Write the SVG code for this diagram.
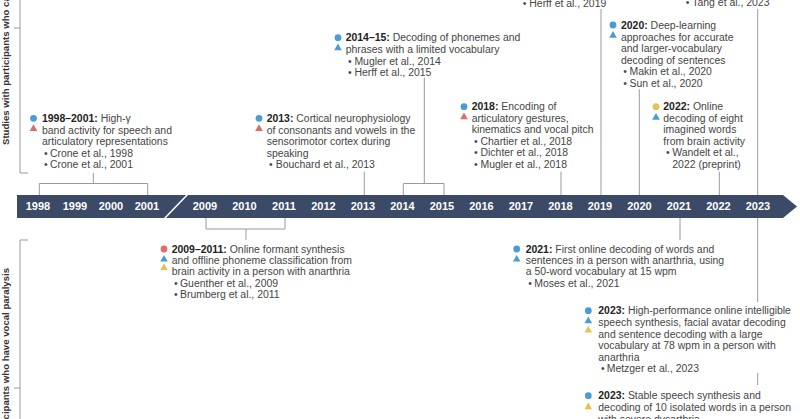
<svg xmlns="http://www.w3.org/2000/svg" width="800" height="419" viewBox="0 0 800 419">
<defs>
<style>
.t{font-family:"Liberation Sans",Arial,sans-serif;font-size:10.45px;fill:#454545}
.b{font-weight:bold;fill:#222}
.blt{fill:#3b4a67}
.yr{font-family:"Liberation Sans",Arial,sans-serif;font-size:11px;font-weight:bold;fill:#fff;text-anchor:middle}
.ln{stroke:#9a9a9a;stroke-width:1;fill:none}
.side{font-family:"Liberation Sans",Arial,sans-serif;font-size:9.6px;font-weight:bold;fill:#333}
.cb{fill:#4b9cd6}.cr{fill:#e06a6a}.cy{fill:#e8c24f}
</style>
<circle id="dot" r="3.4"/>
<polygon id="tri" points="-3.8,3.2 0,-3.4 3.8,3.2"/>
</defs>
<rect width="800" height="419" fill="#fff"/>

<g id="side-labels">
<path class="ln" d="M20,0 V173 H28 M14,28 H20"/>
<text class="side" transform="translate(9,145) rotate(-90)">Studies with participants who can speak</text>
<path class="ln" d="M28,240 H20 V419 M14,388 H20"/>
<text class="side" transform="translate(9,268) rotate(-90)" text-anchor="end">Studies with participants who have vocal paralysis</text>
</g>

<g id="timeline">
<polygon points="17,195 783,195 797,206.5 783,218 17,218" fill="#3b4a67"/>
<line x1="164" y1="219" x2="188" y2="194" stroke="#fff" stroke-width="1.5"/>
<text class="yr" x="38" y="210.4">1998</text>
<text class="yr" x="75" y="210.4">1999</text>
<text class="yr" x="111" y="210.4">2000</text>
<text class="yr" x="147" y="210.4">2001</text>
<text class="yr" x="205" y="210.4">2009</text>
<text class="yr" x="244.5" y="210.4">2010</text>
<text class="yr" x="284" y="210.4">2011</text>
<text class="yr" x="323.5" y="210.4">2012</text>
<text class="yr" x="363" y="210.4">2013</text>
<text class="yr" x="402.5" y="210.4">2014</text>
<text class="yr" x="442" y="210.4">2015</text>
<text class="yr" x="481.5" y="210.4">2016</text>
<text class="yr" x="521" y="210.4">2017</text>
<text class="yr" x="560.5" y="210.4">2018</text>
<text class="yr" x="600" y="210.4">2019</text>
<text class="yr" x="639.5" y="210.4">2020</text>
<text class="yr" x="679" y="210.4">2021</text>
<text class="yr" x="718.5" y="210.4">2022</text>
<text class="yr" x="758" y="210.4">2023</text>
</g>

<g id="connectors">
<path class="ln" d="M39.3,195 V183.5 H147.7 V195 M93.3,183.5 V173"/>
<path class="ln" d="M364.3,195 V171.7"/>
<path class="ln" d="M403.3,195 V183.5 H444 V195 M424.3,183.5 V77.7"/>
<path class="ln" d="M561,195 V171.7"/>
<path class="ln" d="M601,195 V9"/>
<path class="ln" d="M639.3,195 V89.3"/>
<path class="ln" d="M719.3,195 V171.7"/>
<path class="ln" d="M757.7,195 V9"/>
<path class="ln" d="M206,218 V229 H285 V218 M246,229 V240"/>
<path class="ln" d="M680,218 V240"/>
<path class="ln" d="M757.7,218 V302"/>
<path class="ln" d="M757.7,373 V385"/>
</g>

<g id="n2019">
<text class="t" x="522.7" y="6.8"><tspan class="blt">•</tspan><tspan x="529.3">Herff et al., 2019</tspan></text>
</g>

<g id="n2023top">
<text class="t" x="685.7" y="5.8"><tspan class="blt">•</tspan><tspan x="692.3">Tang et al., 2023</tspan></text>
</g>

<g id="n1998">
<use href="#dot" class="cb" x="33.5" y="118.3"/>
<use href="#tri" class="cr" x="33.5" y="127.7"/>
<text class="t" x="42" y="121.8"><tspan class="b">1998–2001:</tspan> High-γ</text>
<text class="t" x="42" y="133.5">band activity for speech and</text>
<text class="t" x="42" y="145.2">articulatory representations</text>
<text class="t" x="44" y="156.8"><tspan class="blt">•</tspan><tspan x="50">Crone et al., 1998</tspan></text>
<text class="t" x="44" y="168.2"><tspan class="blt">•</tspan><tspan x="50">Crone et al., 2001</tspan></text>
</g>

<g id="n2013">
<use href="#dot" class="cb" x="259" y="118.3"/>
<use href="#tri" class="cr" x="259" y="127.7"/>
<text class="t" x="266.7" y="121.8"><tspan class="b">2013:</tspan> Cortical neurophysiology</text>
<text class="t" x="266.7" y="133.5">of consonants and vowels in the</text>
<text class="t" x="266.7" y="145.2">sensorimotor cortex during</text>
<text class="t" x="266.7" y="156.8">speaking</text>
<text class="t" x="269" y="168.2"><tspan class="blt">•</tspan><tspan x="275.7">Bouchard et al., 2013</tspan></text>
</g>

<g id="n2014">
<use href="#dot" class="cb" x="338" y="37.7"/>
<use href="#tri" class="cb" x="338" y="47"/>
<text class="t" x="345.7" y="41.2"><tspan class="b">2014–15:</tspan> Decoding of phonemes and</text>
<text class="t" x="345.7" y="52.8">phrases with a limited vocabulary</text>
<text class="t" x="348" y="64.5"><tspan class="blt">•</tspan><tspan x="354.4">Mugler et al., 2014</tspan></text>
<text class="t" x="348" y="75.8"><tspan class="blt">•</tspan><tspan x="354.4">Herff et al., 2015</tspan></text>
</g>

<g id="n2018">
<use href="#dot" class="cb" x="464" y="106.7"/>
<use href="#tri" class="cr" x="464" y="116"/>
<text class="t" x="471.7" y="110.2"><tspan class="b">2018:</tspan> Encoding of</text>
<text class="t" x="471.7" y="121.8">articulatory gestures,</text>
<text class="t" x="471.7" y="133">kinematics and vocal pitch</text>
<text class="t" x="474" y="144.5"><tspan class="blt">•</tspan><tspan x="480.5">Chartier et al., 2018</tspan></text>
<text class="t" x="474" y="156.2"><tspan class="blt">•</tspan><tspan x="480.5">Dichter et al., 2018</tspan></text>
<text class="t" x="474" y="167.8"><tspan class="blt">•</tspan><tspan x="480.5">Mugler et al., 2018</tspan></text>
</g>

<g id="n2020">
<use href="#dot" class="cb" x="613" y="25"/>
<use href="#tri" class="cb" x="613" y="34.5"/>
<text class="t" x="621" y="28.5"><tspan class="b">2020:</tspan> Deep-learning</text>
<text class="t" x="621" y="40.5">approaches for accurate</text>
<text class="t" x="621" y="52.2">and larger-vocabulary</text>
<text class="t" x="621" y="63.8">decoding of sentences</text>
<text class="t" x="623.3" y="75.2"><tspan class="blt">•</tspan><tspan x="629.5">Makin et al., 2020</tspan></text>
<text class="t" x="623.3" y="86.5"><tspan class="blt">•</tspan><tspan x="629.5">Sun et al., 2020</tspan></text>
</g>

<g id="n2022">
<use href="#dot" class="cy" x="656" y="106.7"/>
<use href="#tri" class="cb" x="656" y="116.5"/>
<text class="t" x="663.3" y="110.2"><tspan class="b">2022:</tspan> Online</text>
<text class="t" x="663.3" y="121.8">decoding of eight</text>
<text class="t" x="663.3" y="133.2">imagined words</text>
<text class="t" x="663.3" y="144.5">from brain activity</text>
<text class="t" x="666" y="156.2"><tspan class="blt">•</tspan><tspan x="672.3">Wandelt et al.,</tspan></text>
<text class="t" x="672.3" y="167.8">2022 (preprint)</text>
</g>

<g id="n2009">
<use href="#dot" class="cr" x="164" y="249"/>
<use href="#tri" class="cb" x="164" y="258.3"/>
<use href="#tri" class="cy" x="164" y="266.9"/>
<text class="t" x="171.7" y="252.5"><tspan class="b">2009–2011:</tspan> Online formant synthesis</text>
<text class="t" x="171.7" y="263.8">and offline phoneme classification from</text>
<text class="t" x="171.7" y="275.2">brain activity in a person with anarthria</text>
<text class="t" x="174" y="286.8"><tspan class="blt">•</tspan><tspan x="180">Guenther et al., 2009</tspan></text>
<text class="t" x="174" y="298.2"><tspan class="blt">•</tspan><tspan x="180">Brumberg et al., 2011</tspan></text>
</g>

<g id="n2021">
<use href="#dot" class="cb" x="516.7" y="249"/>
<use href="#tri" class="cb" x="516.7" y="258.3"/>
<text class="t" x="525.7" y="252.5"><tspan class="b">2021:</tspan> First online decoding of words and</text>
<text class="t" x="525.7" y="263.8">sentences in a person with anarthria, using</text>
<text class="t" x="525.7" y="275.2">a 50-word vocabulary at 15 wpm</text>
<text class="t" x="528.3" y="286.5"><tspan class="blt">•</tspan><tspan x="534.3">Moses et al., 2021</tspan></text>
</g>

<g id="n2023a">
<use href="#dot" class="cb" x="588.3" y="310.7"/>
<use href="#tri" class="cb" x="588.3" y="320"/>
<use href="#tri" class="cy" x="588.3" y="329.3"/>
<text class="t" x="598.3" y="314.2"><tspan class="b">2023:</tspan> High-performance online intelligible</text>
<text class="t" x="598.3" y="325.8">speech synthesis, facial avatar decoding</text>
<text class="t" x="598.3" y="337.5">and sentence decoding with a large</text>
<text class="t" x="598.3" y="348.8">vocabulary at 78 wpm in a person with</text>
<text class="t" x="598.3" y="360.5">anarthria</text>
<text class="t" x="601" y="372.2"><tspan class="blt">•</tspan><tspan x="606.7">Metzger et al., 2023</tspan></text>
</g>

<g id="n2023b">
<use href="#dot" class="cb" x="588.3" y="395.7"/>
<use href="#tri" class="cy" x="588.3" y="406"/>
<text class="t" x="598.3" y="399.2"><tspan class="b">2023:</tspan> Stable speech synthesis and</text>
<text class="t" x="598.3" y="410.8">decoding of 10 isolated words in a person</text>
<text class="t" x="598.3" y="422.5">with severe dysarthria</text>
</g>
</svg>
